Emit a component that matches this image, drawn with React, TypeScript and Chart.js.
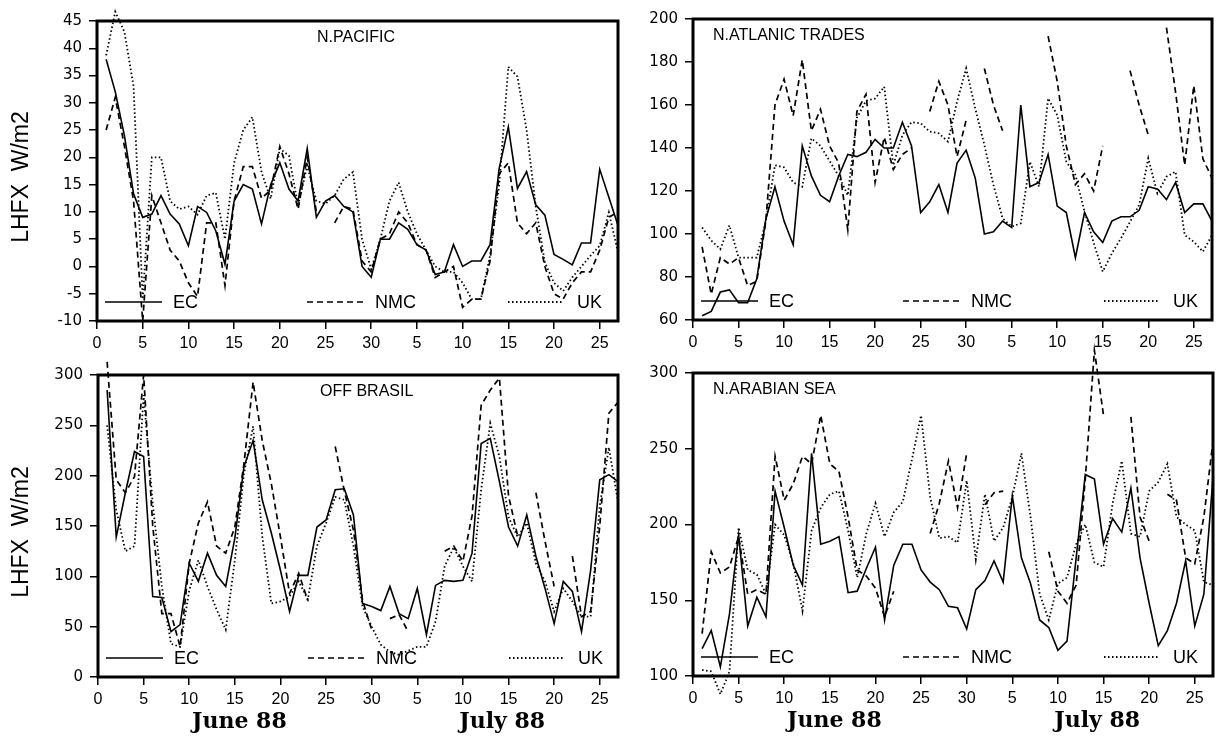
import React, { useEffect, useRef } from 'react';
import { Chart, registerables } from 'chart.js';

Chart.register(...registerables);

// ---------------- data ----------------
const DAYS = Array.from({ length: 57 }, (_, i) => i + 1); // 1..30 June, 31..57 = 1..27 July
const X_TICKS = [0, 5, 10, 15, 20, 25, 30, 35, 40, 45, 50, 55];
const X_TICK_LABELS = ['0', '5', '10', '15', '20', '25', '30', '5', '10', '15', '20', '25'];
const SERIES = ['EC', 'NMC', 'UK'];
const MONTHS = ['June 88', 'July 88'];
const MONTH_AT = [15.5, 44.3];
const Y_TITLE = 'LHFX  W/m2';
const TITLES = ['N.PACIFIC', 'N.ATLANIC TRADES', 'OFF BRASIL', 'N.ARABIAN SEA'];

const PAC_EC = [38, 32, 24, 13.3, 9, 9.6, 13, 9.6, 7.8, 3.8, 11, 9.9, 6.5, 0.4, 12, 15, 14.2, 7.8, 15, 19,
  14.2, 12, 21.6, 9, 12, 13, 11, 10, 0, -2, 5, 5, 8, 6.8, 4, 3, -1.5, -1, 4, 0,
  1, 1, 4, 18, 25.6, 14.3, 17.4, 11.3, 9.4, 2.2, 1.3, 0.3, 4.3, 4.3, 17.8, 12.7, 7.5];
const PAC_NMC = [25, 31, 22, 12, -10, 13, 8, 3, 1, -3, -5.5, 8, 8, -3.5, 12, 18.3, 18.3, 12.5, 14, 22,
  17, 10.5, 20, 10, null, 8, 11, 10.5, 1, -1, 5, 6, 10, 8, 4, 3, -2, -1, 0, -7.5,
  -6, -6, 1, 17, 19, 8, 6, 8, 0, -5, -6, -3, -1, -1, 3, 9, 10];
const PAC_UK = [38.7, 46.7, 43, 33, -6, 20, 20, 12, 10.5, 11, 9.5, 13, 13.5, 5, 19, 25, 27.4, 17.3, 12.4, 21.6,
  20.3, 11.1, 18.5, 12, 11.5, 13, 16, 17.3, 5, -0.5, 5, 12, 15.4, 10, 6, 3, 0, -1, -1, -3,
  -6, -6, 2, 15, 36.6, 34.8, 25, 11, 0.7, -3, -4.5, -2, 0, 2, 3.8, 9.9, 2.6];

const ATL_EC = [62, 64, 73, 74, 68, 68, 79, 107, 122, 106, 95, 141, 127, 118, 115, 127, 137, 136, 138, 144,
  140, 140, 152, 141, 110, 115, 123, 110, 133, 139, 126, 100, 101, 106, 103, 160, 122, 124, 137, 113,
  110, 89, 110, 101, 96, 106, 108, 108, 111, 122, 121, 116, 124, 110, 114, 114, 106];
const ATL_NMC = [94, 72, 89, 86, 89, 76, 78, 106, 160, 172, 155, 181, 148, 158, 141, 133, 102, 157, 165, 124,
  145, 130, 137, 140, null, 157, 171, 160, 136, 153, null, 177, 160, 148, null, null, null, null, 192, 171,
  141, 123, 128, 120, 141, null, null, 176, 160, 146, null, 196, 166, 132, 169, 135, 126];
const ATL_UK = [103, 97, 93, 104, 89, 89, 89, 106, 132, 131, 124, 122, 144.5, 141, 134, 127, 118, 154, 162, 163,
  168.5, 132, 146, 152, 151.5, 147.6, 146.8, 143, 161.6, 177, 158.4, 141.4, 122.8, 107.3, 103.4, 105, 133.6, 122, 163.1, 155.3,
  133.6, 127.4, 110.4, 96, 82.5, 91, 98, 105.7, 113.5, 135.2, 118.9, 126.7, 129, 99.5, 96.4, 91.8, 99.5];

const BRA_EC = [285, 139, 183, 224, 219, 80, 79, 45, 52, 113, 95, 123, 101, 90, 138, 209, 235, 176, 143, 106,
  65, 101, 101, 149, 156, 186, 187, 161, 73, 70, 66, 90, 63, 58, 88, 42, 91, 96, 95, 96,
  123, 232, 237, 194, 149, 130, 161, 120, 88, 53, 95, 85, 45, 106, 196, 201, 194];
const BRA_NMC = [313, 196, 183, 199, 300, 150, 63, 63, 30, 113, 153, 174, 130, 123, 149, 212, 293, 235, 192, 139,
  83, 103, 76, null, null, 229, 185, 146, 76, 47, null, 58, 62, 45, null, null, null, 125, 130, 115,
  160, 270, 285, 297, 180, 140, null, 183, 135, 90, null, 120, 60, 65, 150, 262, 273];
const BRA_UK = [250, 166, 125, 130, 280, 172, 90, 33, 30, 86, 116, 90, 67, 47, 116, 202, 249, 140, 73, 75,
  80, 95, 77, 130, 153, 179, 176, 130, 70, 50, 32, 25, 22, 26, 30, 30, 55, 110, 129, 110,
  95, 186, 252, 219, 159, 139, 153, 113, 95, 65, 88, 75, 60, 60, 170, 228, 174];

const ARA_EC = [118, 130, 106, 141, 193, 133, 152, 139, 222, 198, 173, 160, 247, 187, 189, 192, 155, 156, 171, 185,
  137, 173, 187, 187, 170, 162, 157, 146, 145, 131, 157, 163, 176, 162, 219, 178, 161, 137, 132, 117,
  123, 178, 233, 230, 187, 204, 195, 224, 178, 148, 120, 130, 148, 176, 133, 154, 231];
const ARA_NMC = [128, 182, 168, 172, 192, 154, 157, 154, 245, 216, 227, 245, 240, 272, 240, 235, 205, 170, 166, 158,
  139, 156, null, null, null, 194, 214, 242, 211, 247, null, 213, 221, 222, null, null, null, null, 182, 156,
  148, 160, 230, 315, 272, null, null, 271, 205, 189, null, 220, 216, 178, 174, 205, 255];
const ARA_UK = [104, 103, 88, 103, 198, 170, 167, 154, 200, 193, 174, 143, 196, 211, 220, 222, 196, 165, 194, 214,
  192, 208, 215, 243, 272, 218, 191, 192, 188, 229, 177, 220, 189, 198, 218, 247, 205, 154, 137, 161,
  165, 187, 200, 175, 172, 214, 242, 194, 192, 222, 228, 240, 205, 200, 196, 162, 160];

const PAC_Y = [-10, 45, 5];
const ATL_Y = [60, 200, 20];
const BRA_Y = [0, 300, 50];
const ARA_Y = [100, 300, 50];

// ---------------- layout ----------------
const W = 1223;
const H = 736;
const X_MAX = 57;
const AX_W = 60;
const AX_H = 40;
const SANS = '"Liberation Sans", Arial, sans-serif';

type Panel = {
  title: string;
  series: (number | null)[][];
  y: number[];
  l: number; t: number; r: number; b: number;
  titleDx: number;
  yTitle: boolean;
};

const PANELS: Panel[] = [
  { title: TITLES[0], series: [PAC_EC, PAC_NMC, PAC_UK], y: PAC_Y, l: 97, t: 21, r: 618, b: 321, titleDx: 220, yTitle: true },
  { title: TITLES[1], series: [ATL_EC, ATL_NMC, ATL_UK], y: ATL_Y, l: 693, t: 19, r: 1212, b: 320, titleDx: 20, yTitle: false },
  { title: TITLES[2], series: [BRA_EC, BRA_NMC, BRA_UK], y: BRA_Y, l: 98, t: 375, r: 618, b: 677, titleDx: 222, yTitle: true },
  { title: TITLES[3], series: [ARA_EC, ARA_NMC, ARA_UK], y: ARA_Y, l: 693, t: 373, r: 1213, b: 676, titleDx: 20, yTitle: false },
];

const DASHES = [[], [6, 4], [1.5, 2.5]];
const WIDTHS = [1.6, 1.7, 1.8];
const LEGEND_DX = [[8, 65, 76], [210, 267, 278], [411, 467, 480]];

function decorPlugin(p: Panel, showMonths: boolean) {
  return {
    id: 'decor',
    afterDatasetsDraw(chart: any) {
      const { ctx, chartArea } = chart;
      const { left, top, right, bottom } = chartArea;
      ctx.save();
      // frame
      ctx.strokeStyle = '#000';
      ctx.lineWidth = 3;
      ctx.setLineDash([]);
      ctx.strokeRect(left, top, right - left, bottom - top);
      // title
      ctx.fillStyle = '#000';
      ctx.font = '16px ' + SANS;
      ctx.textBaseline = 'middle';
      ctx.textAlign = 'left';
      ctx.fillText(p.title, left + p.titleDx, top + 17);
      // legend
      const ly = bottom - 19;
      SERIES.forEach((name, i) => {
        const [x0, x1, tx] = LEGEND_DX[i];
        ctx.beginPath();
        ctx.setLineDash(DASHES[i]);
        ctx.lineWidth = WIDTHS[i];
        ctx.moveTo(left + x0, ly);
        ctx.lineTo(left + x1, ly);
        ctx.stroke();
        ctx.setLineDash([]);
        ctx.font = '18px ' + SANS;
        ctx.fillText(name, left + tx, ly + 1);
      });
      // y title
      if (p.yTitle) {
        ctx.save();
        ctx.translate(22, (top + bottom) / 2 + 6);
        ctx.rotate(-Math.PI / 2);
        ctx.textAlign = 'center';
        ctx.textBaseline = 'middle';
        ctx.font = '23px ' + SANS;
        ctx.fillText(Y_TITLE, 0, 0);
        ctx.restore();
      }
      // month labels
      if (showMonths) {
        const xs = chart.scales.x;
        ctx.font = 'bold 22px "DejaVu Serif", serif';
        ctx.textAlign = 'center';
        ctx.textBaseline = 'alphabetic';
        MONTHS.forEach((m, i) => {
          ctx.fillText(m, xs.getPixelForValue(MONTH_AT[i]), bottom + 51);
        });
      }
      ctx.restore();
    },
  };
}

function makeChart(canvas: HTMLCanvasElement, p: Panel, showMonths: boolean) {
  const [yMin, yMax, yStep] = p.y;
  const yTicks: number[] = [];
  for (let v = yMin; v <= yMax; v += yStep) yTicks.push(v);
  return new Chart(canvas, {
    type: 'line',
    data: {
      datasets: SERIES.map((name, i) => ({
        label: name,
        data: DAYS.map((d, k) => ({ x: d, y: p.series[i][k] })),
        borderColor: '#000',
        borderWidth: WIDTHS[i],
        borderDash: DASHES[i],
        pointRadius: 0,
        tension: 0,
        fill: false,
        spanGaps: false,
        clip: false,
      })),
    } as any,
    options: {
      responsive: false,
      animation: false,
      events: [],
      layout: { padding: { left: p.l - AX_W, top: p.t, right: W - p.r, bottom: H - p.b - AX_H } },
      plugins: { legend: { display: false }, tooltip: { enabled: false }, title: { display: false } },
      scales: {
        x: {
          type: 'linear',
          min: 0,
          max: X_MAX,
          afterBuildTicks: (s: any) => { s.ticks = X_TICKS.map((v) => ({ value: v })); },
          afterFit: (s: any) => { s.height = AX_H; },
          ticks: {
            autoSkip: false,
            maxRotation: 0,
            padding: 5,
            color: '#000',
            font: { family: SANS, size: 16 },
            callback: (v: any) => X_TICK_LABELS[X_TICKS.indexOf(Number(v))] ?? '',
          },
          grid: { display: true, drawOnChartArea: false, drawTicks: true, tickLength: 8, color: '#000', lineWidth: 1.5 },
          border: { display: false },
        },
        y: {
          type: 'linear',
          min: yMin,
          max: yMax,
          afterBuildTicks: (s: any) => { s.ticks = yTicks.map((v) => ({ value: v })); },
          afterFit: (s: any) => { s.width = AX_W; },
          ticks: {
            padding: 7,
            color: '#000',
            font: { family: '"DejaVu Sans", sans-serif', size: 15 },
          },
          grid: { display: true, drawOnChartArea: false, drawTicks: true, tickLength: 8, color: '#000', lineWidth: 1.5 },
          border: { display: false },
        },
      },
    } as any,
    plugins: [decorPlugin(p, showMonths)],
  });
}

function PanelCanvas({ panel, showMonths }: { panel: Panel; showMonths: boolean }) {
  const ref = useRef<HTMLCanvasElement | null>(null);
  useEffect(() => {
    if (!ref.current) return;
    const chart = makeChart(ref.current, panel, showMonths);
    return () => chart.destroy();
  }, [panel, showMonths]);
  return (
    <canvas
      ref={ref}
      width={W}
      height={H}
      style={{ position: 'absolute', left: 0, top: 0, width: W, height: H }}
    />
  );
}

export default function App() {
  return (
    <div style={{ position: 'absolute', left: 0, top: 0, width: W, height: H, background: '#fff', overflow: 'hidden' }}>
      {PANELS.map((p, i) => (
        <PanelCanvas key={i} panel={p} showMonths={i >= 2} />
      ))}
    </div>
  );
}
